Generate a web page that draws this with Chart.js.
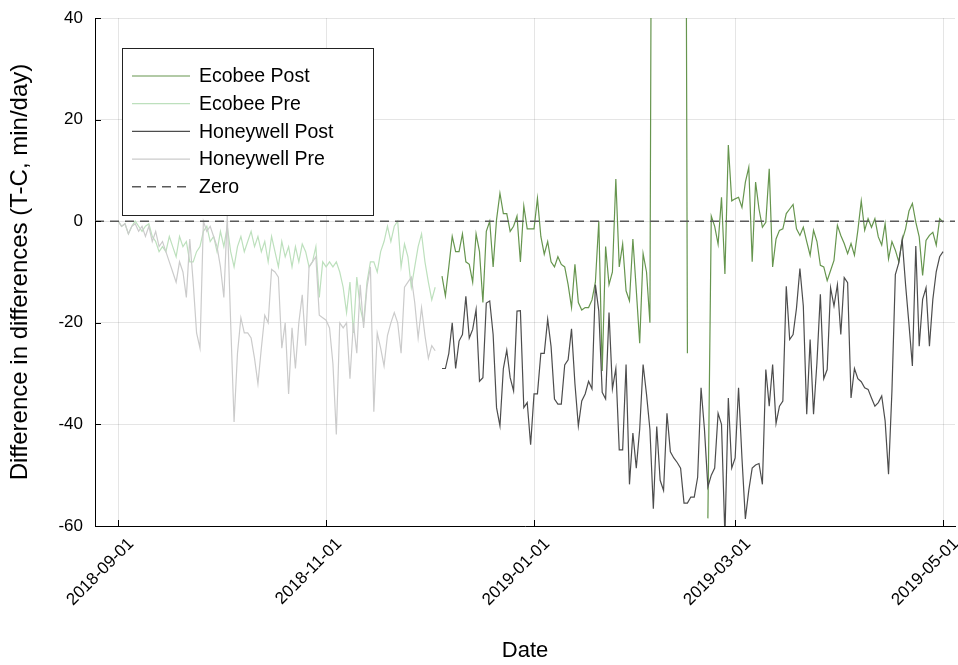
<!DOCTYPE html>
<html>
<head>
<meta charset="utf-8">
<script src="https://cdn.jsdelivr.net/npm/chart.js@4.4.1/dist/chart.umd.min.js"></script>
<style>
  body { margin: 0; background: #fff; }
  #wrap { width: 958px; height: 665px; }
</style>
</head>
<body>
<div id="wrap"><canvas id="chart" width="958" height="665"></canvas></div>
<script>
// daily values (min/day)
const preStart = '2018-09-01';
const postStart = '2018-12-05';

const ecobeePre = [
    0, -1, -0.5, -2.5, -1, 0, -1, -2, -1, -0.5,
    -3, -4, -6, -5, -6, -3, -5, -7, -3, -5,
    -4, -8, -8, -6, -5, -2, -1, -4, -3, -6,
    -2, -5, -1, -6, -9, -5, -3, -6, -4, -2,
    -5, -3, -6, -4, -8, -3, -6, -9, -4, -7,
    -5, -9, -5, -8, -4.5, -6, -9, -8, -5, -15,
    -8, -9, -8, -9, -8, -10, -13, -18, -12, -22,
    -11, -17, -20, -12, -8, -8, -10, -6, -4, -1,
    -4, -1, 0, -9, -4.5, -7, -13, -9, -5, -2.5,
    -8, -12, -15.5, -13
];

const honeywellPre = [
    0, -1, -0.5, -2.5, -1, -0.5, -2, -1, -3, -1,
    -4, -2, -5, -4, -6, -8, -10, -12, -8, -10,
    -15, -3.5, -12, -22, -25, 0, -2, -1, -3, -5,
    -9, -15, 1, -20, -39.5, -26, -19, -22, -22, -23,
    -27, -32, -25, -18.5, -20, -9.5, -10, -11, -25, -20,
    -34, -21, -29, -20, -14.5, -24.5, -9, -8, -7, -18.5,
    -19, -19.5, -21, -28, -42, -20, -21, -20, -31, -20,
    -26, -12.5, -21, -13, -9, -37.5, -22, -25, -28.5, -22.5,
    -20, -18, -20, -26, -13, -12, -11, -16, -23, -17,
    -22.5, -27, -24.5, -25.5
];

// values above the axis top are off-scale spikes, null = missing days
const ecobeePost = [
    -10.8, -14.7, -9, -3, -6, -6, -2.5, -8, -8.5, -12,
    -2.5, -6, -16, -2, 0, -9, 0.3, 5.5, 1.5, 1.5,
    -2, -1, 1, -8, 3, -1.5, -1.5, -1.5, 4.5, -3,
    -6.5, -4, -8, -9, -7, -8.5, -9, -12.5, -17, -8.5,
    -16, -17.5, -17, -17, -15.5, -12, 0, -29.5, -5, -12.5,
    -10, 8.3, -9, -4.5, -13.7, -15.7, -3.5, -13.6, -24, -6.4,
    -10, -20, 180, 240, 210, 260, 230, 190, 250, 220,
    270, 200, -26, null, null, null, null, null, -58.5, 1,
    -1, -4.5, 4.7, -10.4, 15, 4, 4.4, 4.7, 2.7, 7.7,
    10.6, -8, 7.7, 2.4, -1.2, -0.2, 10.3, -9, -3.5, -1.8,
    -1.5, 1.5, 2.4, 3.3, -1.5, -2.8, -1.2, -4, -6.7, -1.8,
    -4, -8.7, -9, -11.7, -9.7, -7.7, -0.8, -2.8, -4.4, -6.4,
    -4.4, -6.7, -1.8, 4, -1.8, 0.5, -1.2, 0.5, -3.1, -4.7,
    -0.5, -7.4, -4, -5.7, -8, -3.8, -1.5, 2, 3.5, -0.2,
    -3.1, -10.7, -3.8, -2.8, -2.2, -4.7, 0.5, -0.2
];

const honeywellPost = [
    -29, -29, -26, -20, -29, -23.6, -22.3, -14.8, -23, -21.3,
    -17.4, -31.5, -30.8, -16.1, -15.7, -22.3, -36.7, -40.3, -29, -25.4,
    -30.8, -33.4, -17.7, -17.6, -36.7, -35.7, -44, -34, -34, -26,
    -26, -19.3, -24.7, -35, -36, -36, -28.3, -27.3, -21.2, -32,
    -40.3, -35.4, -34, -31.5, -33, -12.5, -17.7, -33.7, -35, -18,
    -33, -29, -45, -45, -28.2, -51.8, -41.7, -48.6, -40.9, -28.2,
    -34.1, -41, -56.6, -40.4, -51, -53, -37.8, -45.4, -46.6, -47.5,
    -48.6, -55.5, -55.5, -54.3, -54.3, -50.4, -32.8, -41, -52.3, -50,
    -48.6, -37.8, -40, -62, -34.8, -48.6, -46.6, -32.8, -46.6, -58.6,
    -53, -48.6, -48, -47.7, -51.8, -29.2, -36.4, -28.2, -39.8, -36.4,
    -35.4, -12.8, -23.3, -22.3, -17.1, -9.3, -16.7, -38, -23.3, -38,
    -27.8, -14.4, -31, -29.2, -13.1, -16.7, -12.5, -22.3, -11.1, -12.1,
    -34.8, -29, -31, -31.6, -32.8, -33.1, -34.8, -36.4, -35.7, -34.4,
    -39.3, -49.8, -33.4, -10.5, -8.2, -3.6, -12.5, -20.3, -28.5, -4.9,
    -24.6, -15.4, -13.1, -24.6, -15.4, -9.9, -7, -6
];

const tickDates = ['2018-09-01', '2018-11-01', '2019-01-01', '2019-03-01', '2019-05-01'];
const yTicks = [-60, -40, -20, 0, 20, 40];

const fontFamily = "'Liberation Sans', Arial, sans-serif";
const DAY = 86400000;
const origin = Date.parse(tickDates[0]);
const dayOf = d => Math.round((Date.parse(d) - origin) / DAY);
const tickDays = tickDates.map(dayOf);
const xMin = -6.8, xMax = 245.5;

function toPoints(values, start) {
    const s = dayOf(start);
    return values.map((v, i) => ({ x: s + i, y: v }));
}

// Legend drawn inside the plot, like the original
const boxLegend = {
    id: 'boxLegend',
    afterDraw(chart) {
        const ctx = chart.ctx;
        const area = chart.chartArea;
        const x0 = area.left + 27, y0 = area.top + 30;
        const w = 251, h = 167;
        ctx.save();
        ctx.fillStyle = '#fff';
        ctx.fillRect(x0, y0, w, h);
        ctx.strokeStyle = '#222';
        ctx.lineWidth = 1;
        ctx.strokeRect(x0 + 0.5, y0 + 0.5, w, h);
        ctx.font = '19.5px ' + fontFamily;
        ctx.textBaseline = 'middle';
        chart.data.datasets.forEach((ds, i) => {
            const y = y0 + 28 + i * 27.7;
            ctx.strokeStyle = ds.borderColor;
            ctx.lineWidth = ds.borderWidth;
            ctx.setLineDash(ds.borderDash || []);
            ctx.beginPath();
            ctx.moveTo(x0 + 10, y);
            ctx.lineTo(x0 + 68, y);
            ctx.stroke();
            ctx.setLineDash([]);
            ctx.fillStyle = '#000';
            ctx.fillText(ds.label, x0 + 77, y + 1);
        });
        ctx.restore();
    }
};

// small inward tick marks on the two axes
const innerTicks = {
    id: 'innerTicks',
    afterDraw(chart) {
        const ctx = chart.ctx;
        const area = chart.chartArea;
        const xs = chart.scales.x, ys = chart.scales.y;
        ctx.save();
        ctx.strokeStyle = '#000';
        ctx.lineWidth = 1;
        ctx.beginPath();
        tickDays.forEach(d => {
            const px = Math.round(xs.getPixelForValue(d)) + 0.5;
            ctx.moveTo(px, area.bottom);
            ctx.lineTo(px, area.bottom - 6);
        });
        yTicks.forEach(v => {
            const py = Math.round(ys.getPixelForValue(v)) + 0.5;
            ctx.moveTo(area.left, py);
            ctx.lineTo(area.left + 6, py);
        });
        ctx.stroke();
        ctx.restore();
    }
};

const ctx = document.getElementById('chart').getContext('2d');
new Chart(ctx, {
    type: 'line',
    data: {
        datasets: [
            {
                label: 'Ecobee Post',
                data: toPoints(ecobeePost, postStart),
                borderColor: '#66954e',
                borderWidth: 1.2,
                order: 4
            },
            {
                label: 'Ecobee Pre',
                data: toPoints(ecobeePre, preStart),
                borderColor: '#bde0bd',
                borderWidth: 1.2,
                order: 3
            },
            {
                label: 'Honeywell Post',
                data: toPoints(honeywellPost, postStart),
                borderColor: '#4d4d4d',
                borderWidth: 1.2,
                order: 2
            },
            {
                label: 'Honeywell Pre',
                data: toPoints(honeywellPre, preStart),
                borderColor: '#cbcbcb',
                borderWidth: 1.2,
                order: 1
            },
            {
                label: 'Zero',
                data: [{ x: xMin, y: 0 }, { x: xMax, y: 0 }],
                borderColor: '#5a5a5a',
                borderWidth: 1.5,
                borderDash: [9, 6],
                order: 0
            }
        ]
    },
    options: {
        responsive: false,
        animation: false,
        devicePixelRatio: 1,
        spanGaps: false,
        elements: {
            point: { radius: 0 },
            line: { tension: 0, fill: false }
        },
        layout: {
            padding: { top: 18, right: 3, left: 0, bottom: 0 }
        },
        plugins: {
            legend: { display: false },
            tooltip: { enabled: false }
        },
        scales: {
            x: {
                type: 'linear',
                min: xMin,
                max: xMax,
                afterBuildTicks: scale => {
                    scale.ticks = tickDays.map(v => ({ value: v }));
                },
                afterFit: scale => {
                    scale.height = 139;
                    scale.paddingLeft = 0;
                    scale.paddingRight = 0;
                },
                ticks: {
                    callback: value => tickDates[tickDays.indexOf(value)],
                    minRotation: 45,
                    maxRotation: 45,
                    padding: 8,
                    labelOffset: 13,
                    color: '#000',
                    font: { family: fontFamily, size: 17 }
                },
                grid: { color: 'rgba(0,0,0,0.1)', drawTicks: false },
                border: { color: '#000', width: 1 },
                title: {
                    display: true,
                    text: 'Date',
                    color: '#000',
                    font: { family: fontFamily, size: 22 },
                    padding: { top: 0, bottom: 1 }
                }
            },
            y: {
                min: -60,
                max: 40,
                afterBuildTicks: scale => {
                    scale.ticks = yTicks.map(v => ({ value: v }));
                },
                afterFit: scale => {
                    scale.width = 95;
                    scale.paddingTop = 0;
                    scale.paddingBottom = 0;
                },
                ticks: {
                    padding: 12,
                    color: '#000',
                    font: { family: fontFamily, size: 17 }
                },
                grid: { color: 'rgba(0,0,0,0.1)', drawTicks: false },
                border: { color: '#000', width: 1 },
                title: {
                    display: true,
                    text: 'Difference in differences (T-C, min/day)',
                    color: '#000',
                    font: { family: fontFamily, size: 24 },
                    padding: { top: 6, bottom: 0 }
                }
            }
        }
    },
    plugins: [boxLegend, innerTicks]
});
</script>
</body>
</html>
